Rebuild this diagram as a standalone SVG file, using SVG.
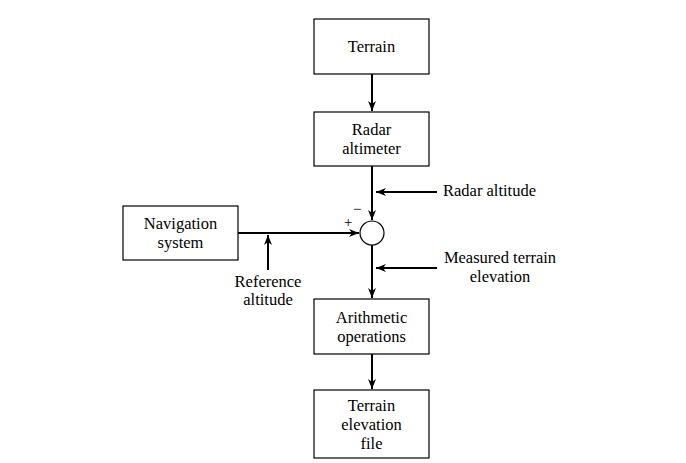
<svg xmlns="http://www.w3.org/2000/svg" width="686" height="463" viewBox="0 0 686 463">
<style>
text{font-family:"Liberation Serif","Times New Roman",serif;font-size:16.5px;fill:#000}
.c{text-anchor:middle}
.box{fill:#fff;stroke:#000;stroke-width:1.2}
.ln{stroke:#000;stroke-width:2;fill:none}
</style>
<defs>
<marker id="ah" viewBox="0 0 10 8" refX="10" refY="4" markerWidth="10" markerHeight="8" markerUnits="userSpaceOnUse" orient="auto">
<path d="M0,0 L10,4 L0,8 L3,4 Z" fill="#000"/>
</marker>
</defs>
<rect width="686" height="463" fill="#fff"/>
<g id="terrain"><rect class="box" x="314" y="19" width="115" height="55"/><text class="c" x="371.5" y="52">Terrain</text></g>
<g id="radar-altimeter"><rect class="box" x="314" y="112" width="115" height="54"/><text class="c" x="371.5" y="135">Radar</text><text class="c" x="371.5" y="154">altimeter</text></g>
<g id="navigation-system"><rect class="box" x="123" y="206" width="115" height="54"/><text class="c" x="180.5" y="229">Navigation</text><text class="c" x="180.5" y="248">system</text></g>
<g id="summer"><circle cx="372" cy="233" r="12" fill="#fff" stroke="#000" stroke-width="1.2"/><text x="344" y="227" style="font-size:15px">+</text><text x="353" y="214" style="font-size:15px">−</text></g>
<g id="arithmetic-operations"><rect class="box" x="314" y="299" width="115" height="55"/><text class="c" x="371.5" y="323">Arithmetic</text><text class="c" x="371.5" y="342">operations</text></g>
<g id="terrain-elevation-file"><rect class="box" x="314" y="390" width="115" height="68"/><text class="c" x="371.5" y="411">Terrain</text><text class="c" x="371.5" y="430">elevation</text><text class="c" x="371.5" y="449">file</text></g>
<g id="labels">
<text x="443" y="196">Radar altitude</text>
<text class="c" x="500" y="263">Measured terrain</text>
<text class="c" x="500" y="282">elevation</text>
<text class="c" x="268" y="287">Reference</text>
<text class="c" x="268" y="305">altitude</text>
</g>
<g id="connectors">
<line class="ln" x1="372" y1="74" x2="372" y2="111" marker-end="url(#ah)"/>
<line class="ln" x1="372" y1="166" x2="372" y2="220" marker-end="url(#ah)"/>
<line class="ln" x1="238" y1="233" x2="359" y2="233" marker-end="url(#ah)"/>
<line class="ln" x1="372" y1="245" x2="372" y2="298" marker-end="url(#ah)"/>
<line class="ln" x1="372" y1="354" x2="372" y2="389" marker-end="url(#ah)"/>
<line class="ln" x1="437" y1="192" x2="376" y2="192" marker-end="url(#ah)"/>
<line class="ln" x1="437" y1="268" x2="376" y2="268" marker-end="url(#ah)"/>
<line class="ln" x1="268" y1="270" x2="268" y2="235" marker-end="url(#ah)"/>
</g>
</svg>
